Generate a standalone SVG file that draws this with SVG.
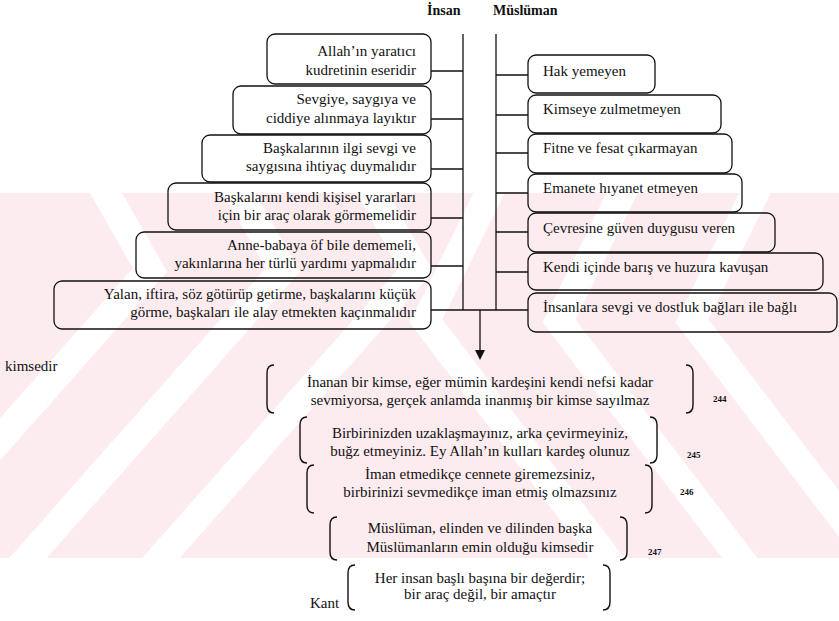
<svg xmlns="http://www.w3.org/2000/svg" width="839" height="621" viewBox="0 0 839 621">
<defs>
<style>
.box{fill:none;stroke:#111;stroke-width:1.3}
.br{fill:none;stroke:#111;stroke-width:1.4}
</style>
</defs>
<rect width="839" height="621" fill="#fff"/>
<g id="watermark">
<rect x="0" y="193" width="839" height="365" fill="#fdecef"/>
<path d="M-4,0 L150,270 L-160,620 M129,0 L283,270 L-27,620 M262,0 L416,270 L106,620 M850,0 L692,321 L920,620 M717,0 L559,321 L787,620 M584,0 L426,321 L654,620" fill="none" stroke="#fff" stroke-width="28" stroke-miterlimit="10"/>
<rect x="0" y="0" width="839" height="193" fill="#fff"/>
<rect x="0" y="558" width="839" height="63" fill="#fff"/>
</g>
<g id="connectors" fill="none" stroke="#111" stroke-width="1.3">
<path d="M463,34 V310 M496,34 V310"/>
<path d="M431,71 H463 M431,119 H463 M431,169 H463 M431,218 H463 M431,266 H463 M431,310 H528"/>
<path d="M496,75 H528 M496,115 H528 M496,153 H528 M496,193 H528 M496,232 H528 M496,272 H528"/>
<path d="M480,310 V352"/>
<path d="M475,350 L485,350 L480,360 Z" fill="#111" stroke="none"/>
</g>
<g font-family="Liberation Serif, Times New Roman, serif" font-size="15" fill="#111">
<g id="L1"><rect class="box" x="267" y="34" width="164" height="50" rx="8"/><text text-anchor="end" x="416" y="56">Allah’ın yaratıcı</text><text text-anchor="end" x="416" y="75">kudretinin eseridir</text></g>
<g id="L2"><rect class="box" x="233" y="86" width="198" height="48" rx="8"/><text text-anchor="end" x="416" y="104">Sevgiye, saygıya ve</text><text text-anchor="end" x="416" y="123">ciddiye alınmaya layıktır</text></g>
<g id="L3"><rect class="box" x="202" y="135" width="229" height="47" rx="8"/><text text-anchor="end" x="416" y="153">Başkalarının ilgi sevgi ve</text><text text-anchor="end" x="416" y="171">saygısına ihtiyaç duymalıdır</text></g>
<g id="L4"><rect class="box" x="168" y="183" width="263" height="47" rx="8"/><text text-anchor="end" x="416" y="202">Başkalarını kendi kişisel yararları</text><text text-anchor="end" x="416" y="220">için bir araç olarak görmemelidir</text></g>
<g id="L5"><rect class="box" x="136" y="232" width="295" height="46" rx="8"/><text text-anchor="end" x="416" y="250">Anne-babaya öf bile dememeli,</text><text text-anchor="end" x="416" y="268">yakınlarına her türlü yardımı yapmalıdır</text></g>
<g id="L6"><rect class="box" x="54" y="281" width="377" height="48" rx="8"/><text text-anchor="end" x="416" y="299">Yalan, iftira, söz götürüp getirme, başkalarını küçük</text><text text-anchor="end" x="416" y="317">görme, başkaları ile alay etmekten kaçınmalıdır</text></g>
<g id="R1"><rect class="box" x="528" y="55" width="127" height="38" rx="8"/><text x="543" y="76">Hak yemeyen</text></g>
<g id="R2"><rect class="box" x="528" y="95" width="193" height="38" rx="8"/><text x="543" y="114">Kimseye zulmetmeyen</text></g>
<g id="R3"><rect class="box" x="528" y="134" width="204" height="39" rx="8"/><text x="543" y="153">Fitne ve fesat çıkarmayan</text></g>
<g id="R4"><rect class="box" x="528" y="174" width="214" height="38" rx="8"/><text x="543" y="193">Emanete hıyanet etmeyen</text></g>
<g id="R5"><rect class="box" x="528" y="213" width="247" height="39" rx="8"/><text x="543" y="233">Çevresine güven duygusu veren</text></g>
<g id="R6"><rect class="box" x="528" y="253" width="295" height="37" rx="8"/><text x="543" y="272">Kendi içinde barış ve huzura kavuşan</text></g>
<g id="R7"><rect class="box" x="528" y="293" width="309" height="39" rx="8"/><text x="543" y="312">İnsanlara sevgi ve dostluk bağları ile bağlı</text></g>
<text x="5" y="371">kimsedir</text>
<g id="Q1"><path class="br" d="M274,365 Q267,365 267,373 V405 Q267,413 274,413 M686,365 Q693,365 693,373 V405 Q693,413 686,413"/><text text-anchor="middle" x="480" y="387">İnanan bir kimse, eğer mümin kardeşini kendi nefsi kadar</text><text text-anchor="middle" x="480" y="405">sevmiyorsa, gerçek anlamda inanmış bir kimse sayılmaz</text></g>
<g id="Q2"><path class="br" d="M307,417 Q300,417 300,425 V455 Q300,463 307,463 M650,417 Q657,417 657,425 V455 Q657,463 650,463"/><text text-anchor="middle" x="480" y="438">Birbirinizden uzaklaşmayınız, arka çevirmeyiniz,</text><text text-anchor="middle" x="480" y="456">buğz etmeyiniz. Ey Allah’ın kulları kardeş olunuz</text></g>
<g id="Q3"><path class="br" d="M314,465 Q307,465 307,473 V505 Q307,513 314,513 M645,465 Q652,465 652,473 V505 Q652,513 645,513"/><text text-anchor="middle" x="480" y="479">İman etmedikçe cennete giremezsiniz,</text><text text-anchor="middle" x="480" y="497">birbirinizi sevmedikçe iman etmiş olmazsınız</text></g>
<g id="Q4"><path class="br" d="M337,517 Q330,517 330,525 V552 Q330,560 337,560 M620,517 Q627,517 627,525 V552 Q627,560 620,560"/><text text-anchor="middle" x="480" y="533">Müslüman, elinden ve dilinden başka</text><text text-anchor="middle" x="480" y="552">Müslümanların emin olduğu kimsedir</text></g>
<g id="Q5"><path class="br" d="M355,565 Q348,565 348,573 V602 Q348,610 355,610 M603,565 Q610,565 610,573 V602 Q610,610 603,610"/><text text-anchor="middle" x="480" y="583">Her insan başlı başına bir değerdir;</text><text text-anchor="middle" x="480" y="599">bir araç değil, bir amaçtır</text><text x="310" y="608">Kant</text></g>
<g id="refs" font-size="9" font-weight="bold"><text x="713" y="402">244</text><text x="687" y="458">245</text><text x="680" y="495">246</text><text x="648" y="555">247</text></g>
<g id="headers" font-size="14" font-weight="bold"><text x="427" y="15">İnsan</text><text x="493" y="15">Müslüman</text></g>
</g>
</svg>
